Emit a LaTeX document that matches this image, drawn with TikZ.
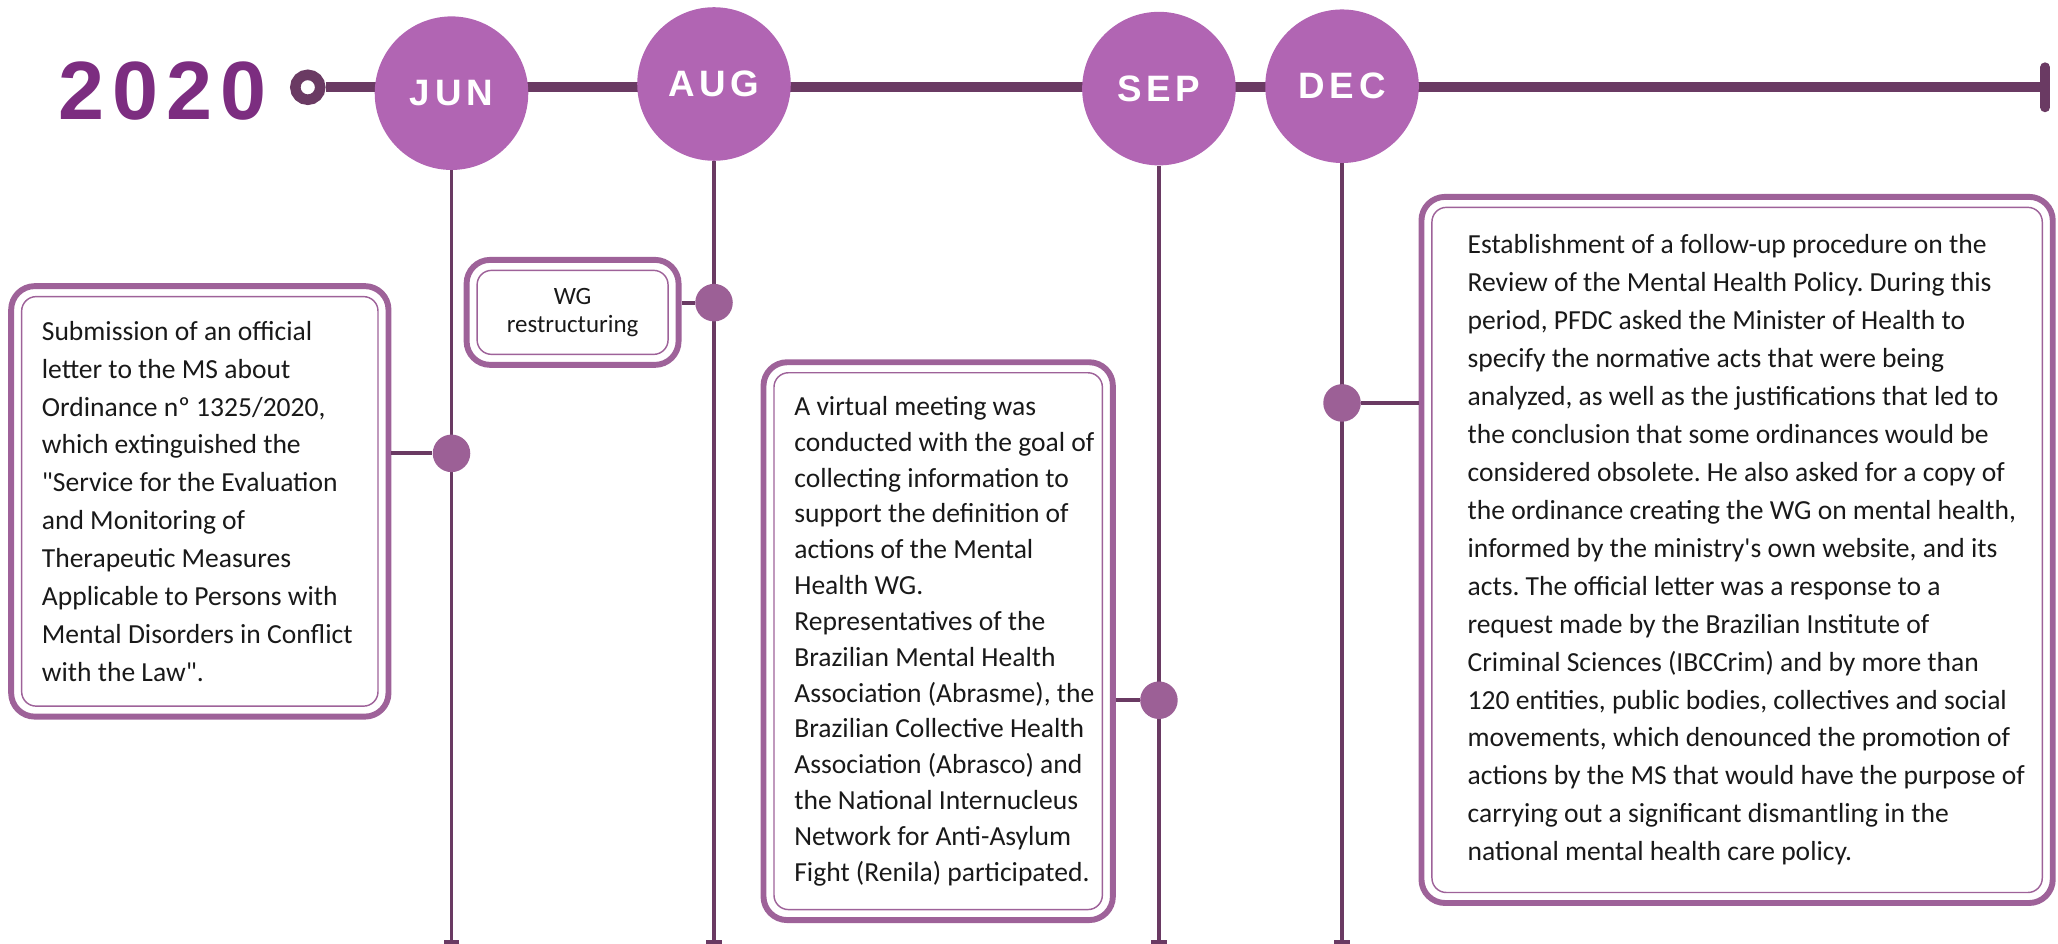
\documentclass[tikz,border=0pt]{standalone}
\usepackage{fontspec}
\setmainfont{Carlito}[Ligatures=TeXOff]
\newfontfamily\monthfont[LetterSpace=13]{Liberation Sans}
\newfontfamily\yearfont[LetterSpace=10]{Liberation Sans}
\usepackage{tikz}
\usetikzlibrary{arrows.meta,positioning,fit}
\usepackage{xcolor}
\definecolor{tlplum}{RGB}{106,58,99}
\definecolor{tlorchid}{RGB}{177,101,179}
\definecolor{tlyear}{RGB}{124,45,128}
\definecolor{tlframe}{RGB}{158,98,153}
\definecolor{tldot}{RGB}{156,96,150}
\definecolor{tlink}{RGB}{25,25,25}
\tikzstyle{spine} = [line width=7.5pt, color=tlplum]
\tikzstyle{stem} = [line width=3pt, color=tlplum, -{Bar[width=12pt]}]
\tikzstyle{month} = [circle, fill=tlorchid, minimum size=117pt, inner sep=0pt, text=white, font=\monthfont\bfseries\fontsize{28}{28}\selectfont]
\tikzstyle{card} = [draw=tlframe, line width=1.1pt, rounded corners=11pt, outer sep=0pt, inner sep=0pt, anchor=north west, text=tlink]
\tikzstyle{cardframe} = [draw=tlframe, line width=4.5pt, rounded corners=18pt, inner sep=8pt]
\tikzstyle{eventtext} = [anchor=west, align=left, inner sep=0pt, text=tlink, font=\fontsize{21}{28.9}\selectfont]
\tikzstyle{dot} = [circle, fill=tldot, minimum size=28.6pt, inner sep=0pt]
\tikzstyle{link} = [line width=3pt, color=tlplum]
\frenchspacing

\begin{document}
\begin{tikzpicture}[x=1pt, y=-1pt]
\useasboundingbox (0,0) rectangle (1568,719.2);
\coordinate (floor) at (0,719.2);

% Timeline
\node[circle, draw=tlplum, line width=8pt, minimum size=19pt, inner sep=0pt] (ring) at (234.5,66.5) {};
\coordinate (tail) at (1562,66.5);
\draw[spine, -{Bar[width=30.5pt, round]}] (ring.east) -- (tail);
\node[font=\yearfont\bfseries\fontsize{63}{63}\selectfont, text=tlyear, anchor=base west, inner sep=0pt] (year) at (44,91) {2020};

% Months
\node[month] (jun) at (344,71) {JUN};
\node[month] (aug) at (544,64) {AUG};
\node[month] (sep) at (883,67.5) {SEP};
\node[month] (dec) at (1022.5,65.7) {DEC};
\foreach \m in {jun,aug,sep,dec}
  \draw[stem] (\m.south) -- (\m.south |- floor);

% June
\node[card, minimum width=271.5pt, minimum height=312pt] (juncard) at (16.5,226) {};
\node[cardframe, fit=(juncard)] (junframe) {};
\node[eventtext] (juntext) at ([xshift=15.2pt]juncard.west) {Submission of an official\\letter to the MS about\\Ordinance nº 1325/2020,\\which extinguished the\\"Service for the Evaluation\\and Monitoring of\\Therapeutic Measures\\Applicable to Persons with\\Mental Disorders in Conflict\\with the Law".};
\node[dot] (jundot) at (344,345.4) {};
\draw[link] (junframe.east |- jundot) -- (jundot);

% August
\node[card, minimum width=145.5pt, minimum height=64pt, align=center, font=\fontsize{19}{21}\selectfont] (augcard) at (363.5,206) {WG\\restructuring};
\node[cardframe, fit=(augcard)] (augframe) {};
\node[dot] (augdot) at (544,230.6) {};
\draw[link] (augframe.east |- augdot) -- (augdot);

% September
\node[card, minimum width=250.2pt, minimum height=409pt] (sepcard) at (589.7,284) {};
\node[cardframe, fit=(sepcard)] (sepframe) {};
\node[eventtext, font=\fontsize{21}{27.3}\selectfont] (septext) at ([xshift=15.3pt]sepcard.west) {A virtual meeting was\\conducted with the goal of\\collecting information to\\support the definition of\\actions of the Mental\\Health WG.\\Representatives of the\\Brazilian Mental Health\\Association (Abrasme), the\\Brazilian Collective Health\\Association (Abrasco) and\\the National Internucleus\\Network for Anti-Asylum\\Fight (Renila) participated.};
\node[dot] (sepdot) at (883,533.5) {};
\draw[link] (sepframe.east |- sepdot) -- (sepdot);

% December
\node[card, minimum width=465pt, minimum height=522pt] (deccard) at (1091,158) {};
\node[cardframe, fit=(deccard)] (decframe) {};
\node[eventtext] (dectext) at ([xshift=27pt]deccard.west) {Establishment of a follow-up procedure on the\\Review of the Mental Health Policy. During this\\period, PFDC asked the Minister of Health to\\specify the normative acts that were being\\analyzed, as well as the justifications that led to\\the conclusion that some ordinances would be\\considered obsolete. He also asked for a copy of\\the ordinance creating the WG on mental health,\\informed by the ministry's own website, and its\\acts. The official letter was a response to a\\request made by the Brazilian Institute of\\Criminal Sciences (IBCCrim) and by more than\\120 entities, public bodies, collectives and social\\movements, which denounced the promotion of\\actions by the MS that would have the purpose of\\carrying out a significant dismantling in the\\national mental health care policy.};
\node[dot] (decdot) at (1022.5,307) {};
\draw[link] (decdot) -- (decframe.west |- decdot);
\end{tikzpicture}
\end{document}
